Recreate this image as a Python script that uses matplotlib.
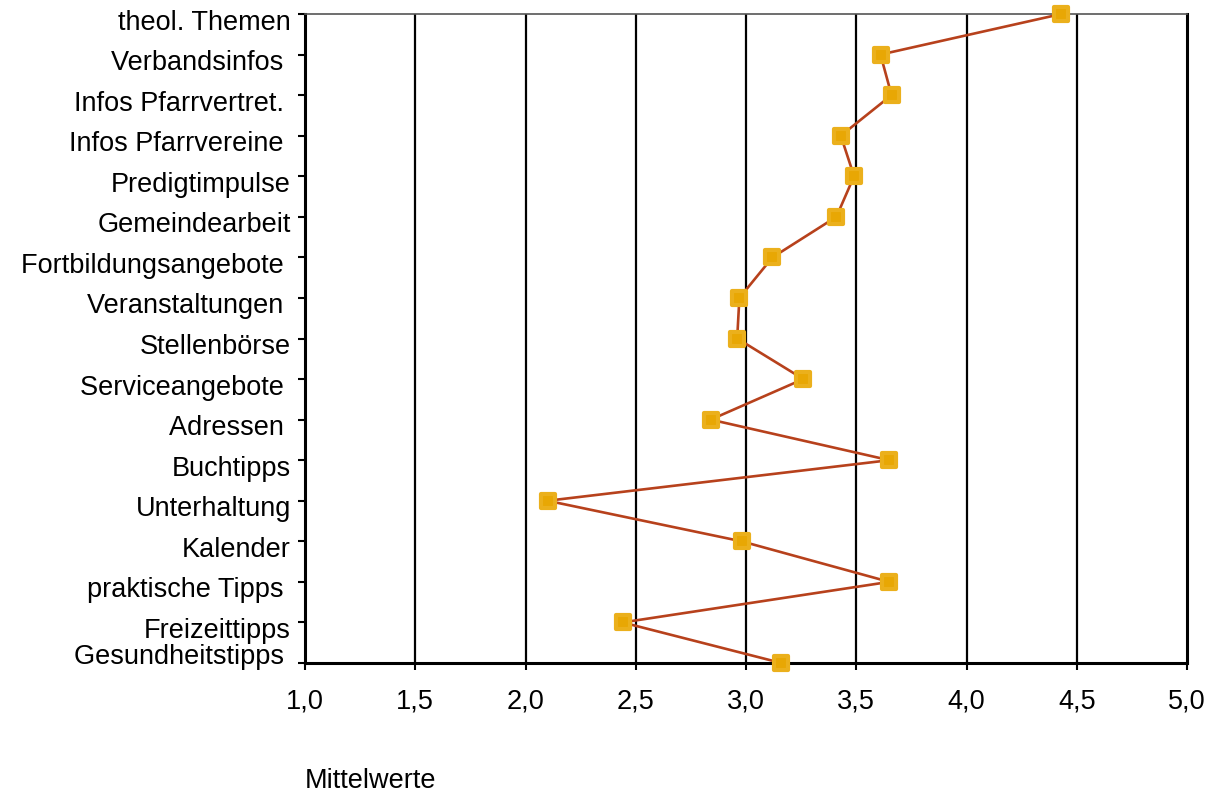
import numpy as np
import matplotlib
matplotlib.use('Agg')
import matplotlib.pyplot as plt
import matplotlib.transforms as mtransforms
from matplotlib.markers import MarkerStyle

plt.rcParams['font.family'] = ['Liberation Sans', 'DejaVu Sans']

# ── Data ──────────────────────────────────────────────────────
categories = [
    "theol. Themen", "Verbandsinfos ", "Infos Pfarrvertret. ", "Infos Pfarrvereine ",
    "Predigtimpulse", "Gemeindearbeit", "Fortbildungsangebote ", "Veranstaltungen ",
    "Stellenbörse", "Serviceangebote ", "Adressen ", "Buchtipps", "Unterhaltung",
    "Kalender", "praktische Tipps ", "Freizeittipps", "Gesundheitstipps ",
]
means = [4.43, 3.61, 3.66, 3.43, 3.49, 3.41, 3.12, 2.97, 2.96,
         3.26, 2.84, 3.65, 2.10, 2.98, 3.65, 2.44, 3.16]
x_ticks = [1.0, 1.5, 2.0, 2.5, 3.0, 3.5, 4.0, 4.5, 5.0]
x_ticklabels = ["1,0", "1,5", "2,0", "2,5", "3,0", "3,5", "4,0", "4,5", "5,0"]

FS = 19.5
LINE_COL = '#B7411C'
MARK_COL = '#E8A704'

fig = plt.figure(figsize=(12.08, 7.94), dpi=100)
ax = fig.add_axes([305 / 1208, 1 - 663 / 794, (1187 - 305) / 1208, (663 - 14) / 794])

ypos = np.arange(len(categories))
ax.plot(means, ypos, color=LINE_COL, lw=1.9, zorder=3, clip_on=False)
ax.plot(means, ypos, linestyle='none',
        marker=MarkerStyle('s', joinstyle='round'), ms=9.5,
        mfc=MARK_COL, mec='#EBB01C', mew=3.0, zorder=4, clip_on=False)

ax.set_xlim(1.0, 5.0)
ax.set_ylim(len(categories) - 1, 0)

# vertical grid
for xv in x_ticks[1:-1]:
    ax.axvline(xv, color='black', lw=1.6, zorder=1)

ax.set_xticks(x_ticks)
ax.set_xticklabels(x_ticklabels, fontsize=FS)
ax.set_yticks(ypos)
ax.set_yticklabels(categories, fontsize=FS)
ax.tick_params(axis='x', direction='out', length=5, width=1.5, pad=13)
ax.tick_params(axis='y', direction='out', length=5, width=1.5, pad=5)

# labels sit a little below their ticks; the last one is pushed up
for i, lab in enumerate(ax.get_yticklabels()):
    dy = -4 / 72 if i < len(categories) - 1 else 6.5 / 72
    lab.set_transform(lab.get_transform() +
                      mtransforms.ScaledTranslation(0, dy, fig.dpi_scale_trans))

for side in ['left', 'bottom', 'right']:
    ax.spines[side].set_linewidth(2.2)
    ax.spines[side].set_color('black')
ax.spines['top'].set_linewidth(1.2)
ax.spines['top'].set_color('#555555')

fig.text(305 / 1208, 1 - 781 / 794, "Mittelwerte", fontsize=FS, ha='left', va='center')

fig.savefig('out.png', dpi=100)
